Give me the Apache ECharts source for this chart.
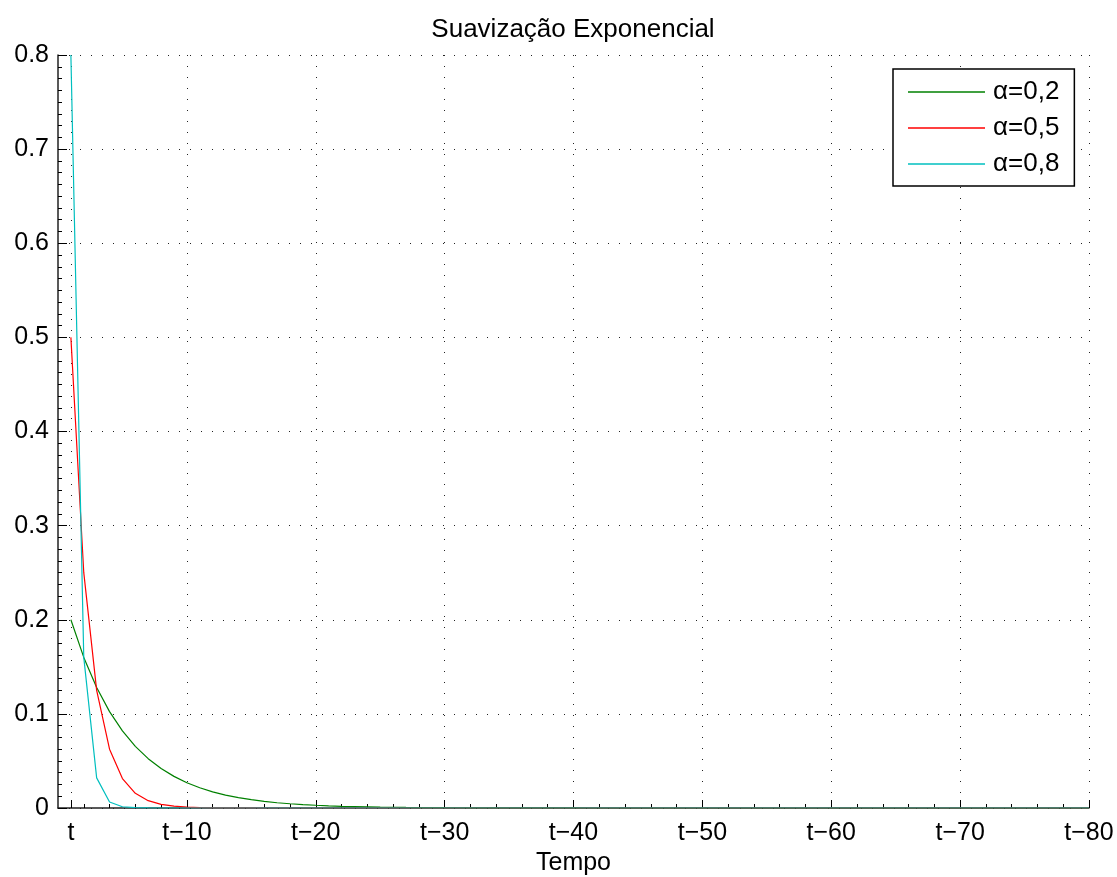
<!DOCTYPE html>
<html>
<head>
<meta charset="utf-8">
<script src="https://cdn.jsdelivr.net/npm/echarts@6/dist/echarts.min.js"></script>
<style>
html,body{margin:0;padding:0;background:#fff;}
#chart{width:1117px;height:877px;}
</style>
</head>
<body>
<div id="chart"></div>
<script>
// ---- Data ----
const titleText = 'Suavização Exponencial';
const xName = 'Tempo';
const seriesNames = ['α=0,2', 'α=0,5', 'α=0,8'];
const tickValues = [1, 10, 20, 30, 40, 50, 60, 70, 80];
const tickLabels = ['t', 't−10', 't−20', 't−30', 't−40', 't−50', 't−60', 't−70', 't−80'];
const steps = [1,2,3,4,5,6,7,8,9,10,11,12,13,14,15,16,17,18,19,20,
  21,22,23,24,25,26,27,28,29,30,31,32,33,34,35,36,37,38,39,40,
  41,42,43,44,45,46,47,48,49,50,51,52,53,54,55,56,57,58,59,60,
  61,62,63,64,65,66,67,68,69,70,71,72,73,74,75,76,77,78,79,80];
const alpha02 = [0.2,0.16,0.128,0.1024,0.0819,0.0655,0.0524,0.0419,0.0336,0.0268,
  0.0215,0.0172,0.0137,0.011,0.0088,0.007,0.0056,0.0045,0.0036,0.0029,
  0.0023,0.0018,0.0015,0.0012,0.0009,0.0008,0.0006,0.0005,0.0004,0.0003,
  0.00025,0.0002,0.00016,0.00013,0.0001,0.00008,0.00006,0.00005,0.00004,0.00003,
  0,0,0,0,0,0,0,0,0,0,0,0,0,0,0,0,0,0,0,0,
  0,0,0,0,0,0,0,0,0,0,0,0,0,0,0,0,0,0,0,0];
const alpha05 = [0.5,0.25,0.125,0.0625,0.0313,0.0156,0.0078,0.0039,0.002,0.001,
  0.0005,0.0002,0.0001,0.00006,0.00003,0,0,0,0,0,
  0,0,0,0,0,0,0,0,0,0,0,0,0,0,0,0,0,0,0,0,
  0,0,0,0,0,0,0,0,0,0,0,0,0,0,0,0,0,0,0,0,
  0,0,0,0,0,0,0,0,0,0,0,0,0,0,0,0,0,0,0,0];
const alpha08 = [0.8,0.16,0.032,0.0064,0.0013,0.0003,0.00005,0,0,0,
  0,0,0,0,0,0,0,0,0,0,
  0,0,0,0,0,0,0,0,0,0,0,0,0,0,0,0,0,0,0,0,
  0,0,0,0,0,0,0,0,0,0,0,0,0,0,0,0,0,0,0,0,
  0,0,0,0,0,0,0,0,0,0,0,0,0,0,0,0,0,0,0,0];
const colors = ['#008000', '#ff0000', '#00bfbf'];

const FONT = '"Liberation Sans", Arial, Helvetica, sans-serif';
const chart = echarts.init(document.getElementById('chart'));
const gridLine = { show: true, lineStyle: { color: '#222', width: 1, type: [1, 10] } };

function mk(name, vals, color) {
  return {
    name: name, type: 'line', symbol: 'none', showSymbol: false,
    data: steps.map((x, i) => [x, vals[i]]),
    lineStyle: { color: color, width: 1.2 },
    itemStyle: { color: color },
    color: color,
    animation: false
  };
}

chart.setOption({
  animation: false,
  backgroundColor: '#fff',
  color: colors,
  textStyle: { fontFamily: FONT },
  title: {
    text: titleText, left: 568, textAlign: 'center', top: 12,
    textStyle: { fontFamily: FONT, fontSize: 26, fontWeight: 'normal', color: '#000' }
  },
  grid: { left: 58, right: 28, top: 55, bottom: 69, containLabel: false, outerBoundsMode: 'none' },
  legend: {
    show: true,
    orient: 'vertical', left: 893, top: 69,
    data: seriesNames,
    icon: 'rect',
    itemWidth: 77, itemHeight: 1.6, itemGap: 10,
    padding: [10, 15, 9, 15],
    borderColor: '#000', borderWidth: 1.5, backgroundColor: '#fff',
    textStyle: { fontFamily: FONT, fontSize: 26, color: '#000', lineHeight: 26, padding: [0, 0, 0, 3] }
  },
  xAxis: {
    type: 'value', min: 0, max: 80, interval: 10,
    name: xName, nameLocation: 'middle', nameGap: 42,
    nameTextStyle: { fontFamily: FONT, fontSize: 25, color: '#000' },
    axisLine: { show: true, onZero: false, lineStyle: { color: '#222', width: 1.5 } },
    axisTick: { show: true, inside: true, length: 8, customValues: tickValues, lineStyle: { color: '#000' } },
    minorTick: { show: true, splitNumber: 5, length: 4, lineStyle: { color: '#000' } },
    axisLabel: {
      customValues: tickValues,
      formatter: function (v) { const i = tickValues.indexOf(v); return i >= 0 ? tickLabels[i] : ''; },
      fontFamily: FONT, fontSize: 25, color: '#000', margin: 13
    },
    splitLine: gridLine
  },
  yAxis: {
    type: 'value', min: 0, max: 0.8, interval: 0.1,
    axisLine: { show: true, onZero: false, lineStyle: { color: '#222', width: 1.5 } },
    axisTick: { show: true, inside: true, length: 9, lineStyle: { color: '#000' } },
    minorTick: { show: true, splitNumber: 8, length: 4, lineStyle: { color: '#000' } },
    axisLabel: {
      formatter: function (v) { return v === 0 ? '0' : v.toFixed(1); },
      fontFamily: FONT, fontSize: 25, color: '#000', margin: 9
    },
    splitLine: gridLine
  },
  series: [
    mk(seriesNames[0], alpha02, colors[0]),
    mk(seriesNames[1], alpha05, colors[1]),
    mk(seriesNames[2], alpha08, colors[2])
  ]
});
</script>
</body>
</html>
